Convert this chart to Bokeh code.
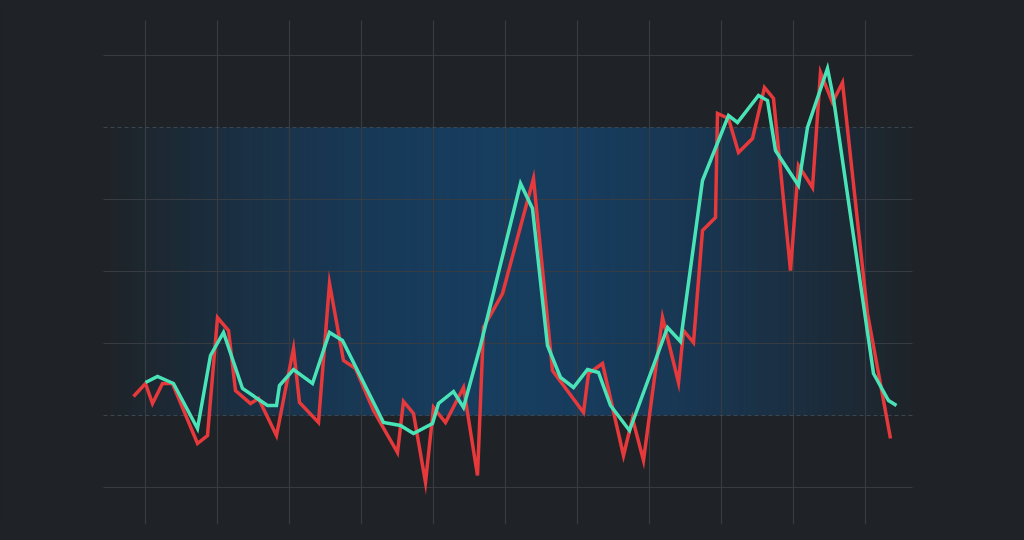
import numpy as np
from bokeh.plotting import figure
from bokeh.models import Range1d
from bokeh.embed import file_html
from bokeh.resources import INLINE

# ---- data (arbitrary units) ----
red_x = [-12, 0, 7, 17, 27, 52, 62, 72, 83, 90, 105, 113, 131, 148, 154, 173, 184, 198, 210, 228,
         252, 258, 268, 280, 288, 300, 318, 332, 338, 357, 388, 407, 438, 443, 457, 478, 487, 498,
         517, 533, 538, 548, 557, 570, 572, 583, 593, 607, 619, 628, 645, 653, 667, 675, 687, 697,
         722, 745]
red_y = [19, 32, 12, 32, 32, -28, -20, 98, 85, 25, 12, 17, -20, 67, 13, -7, 132, 55, 47, 5,
         -37, 14, 2, -67, 8, -7, 28, -60, 88, 122, 237, 45, 3, 42, 52, -40, -3, -45,
         98, 33, 85, 73, 185, 198, 302, 297, 263, 277, 328, 317, 145, 250, 228, 343, 313, 333,
         102, -23]

teal_x = [0, 12, 28, 52, 65, 78, 97, 122, 131, 134, 148, 167, 184, 197, 238, 255, 268, 287, 293,
          308, 318, 335, 375, 387, 402, 415, 428, 442, 453, 465, 484, 522, 535, 557, 583, 592,
          613, 622, 630, 653, 662, 682, 688, 728, 743, 751]
teal_y = [33, 39, 32, -13, 60, 83, 27, 10, 10, 30, 46, 32, 83, 75, -7, -10, -18, -8, 12,
          24, 8, 70, 232, 207, 70, 38, 28, 46, 43, 10, -15, 88, 74, 235, 300, 293,
          320, 315, 265, 230, 288, 347, 317, 42, 15, 10]

band_low = 0
band_high = 288
grid_x = [0, 72, 144, 216, 288, 360, 432, 504, 576, 648, 720]
grid_y = [-72, 0, 72, 144, 216, 288, 360]

BG = "#1f2327"
BAND = "#173d5f"
GRID = "#363c42"

p = figure(width=1008, height=524, output_backend="svg", toolbar_location=None,
           x_range=Range1d(-145, 863), y_range=Range1d(-109, 415),
           min_border=0, min_border_left=0, min_border_right=0,
           min_border_top=0, min_border_bottom=0)
p.background_fill_color = BG
p.border_fill_color = BG
p.outline_line_color = None
p.axis.visible = False
p.grid.visible = False

# ---- band with horizontal fade ----
band_left, band_right = -35, 765
n = 120
edges = np.linspace(band_left, band_right, n + 1)
t = (edges[:-1] + edges[1:]) / 2
tt = (t - band_left) / (band_right - band_left)
alpha = np.clip(0.05 + 0.95 * np.sin(np.pi * tt) ** 1.1, 0, 1)
p.quad(left=edges[:-1], right=edges[1:] + 0.5, bottom=band_low, top=band_high,
       fill_color=BAND, fill_alpha=alpha, line_color=None)

# ---- grid ----
for gx in grid_x:
    p.segment(x0=[gx], y0=[-113], x1=[gx], y1=[395], line_color=GRID, line_width=1.2)
for gy in grid_y:
    if gy in (band_low, band_high):
        continue
    p.segment(x0=[-42], y0=[gy], x1=[767], y1=[gy], line_color=GRID, line_width=1.2)

for gy in (band_low, band_high):
    p.segment(x0=[-42], y0=[gy], x1=[767], y1=[gy], line_color="#3b4650",
              line_width=1.2, line_dash="4 3")

# ---- series ----
p.line(red_x, red_y, line_color="#e5393b", line_width=3.5, line_join="miter")
p.line(teal_x, teal_y, line_color="#4ae3b7", line_width=3.5, line_join="miter")

html = file_html(p, INLINE)
html = html.replace("<head>", "<head><style>html,body{background:%s;}</style>" % BG, 1)
open("out.html", "w").write(html)
